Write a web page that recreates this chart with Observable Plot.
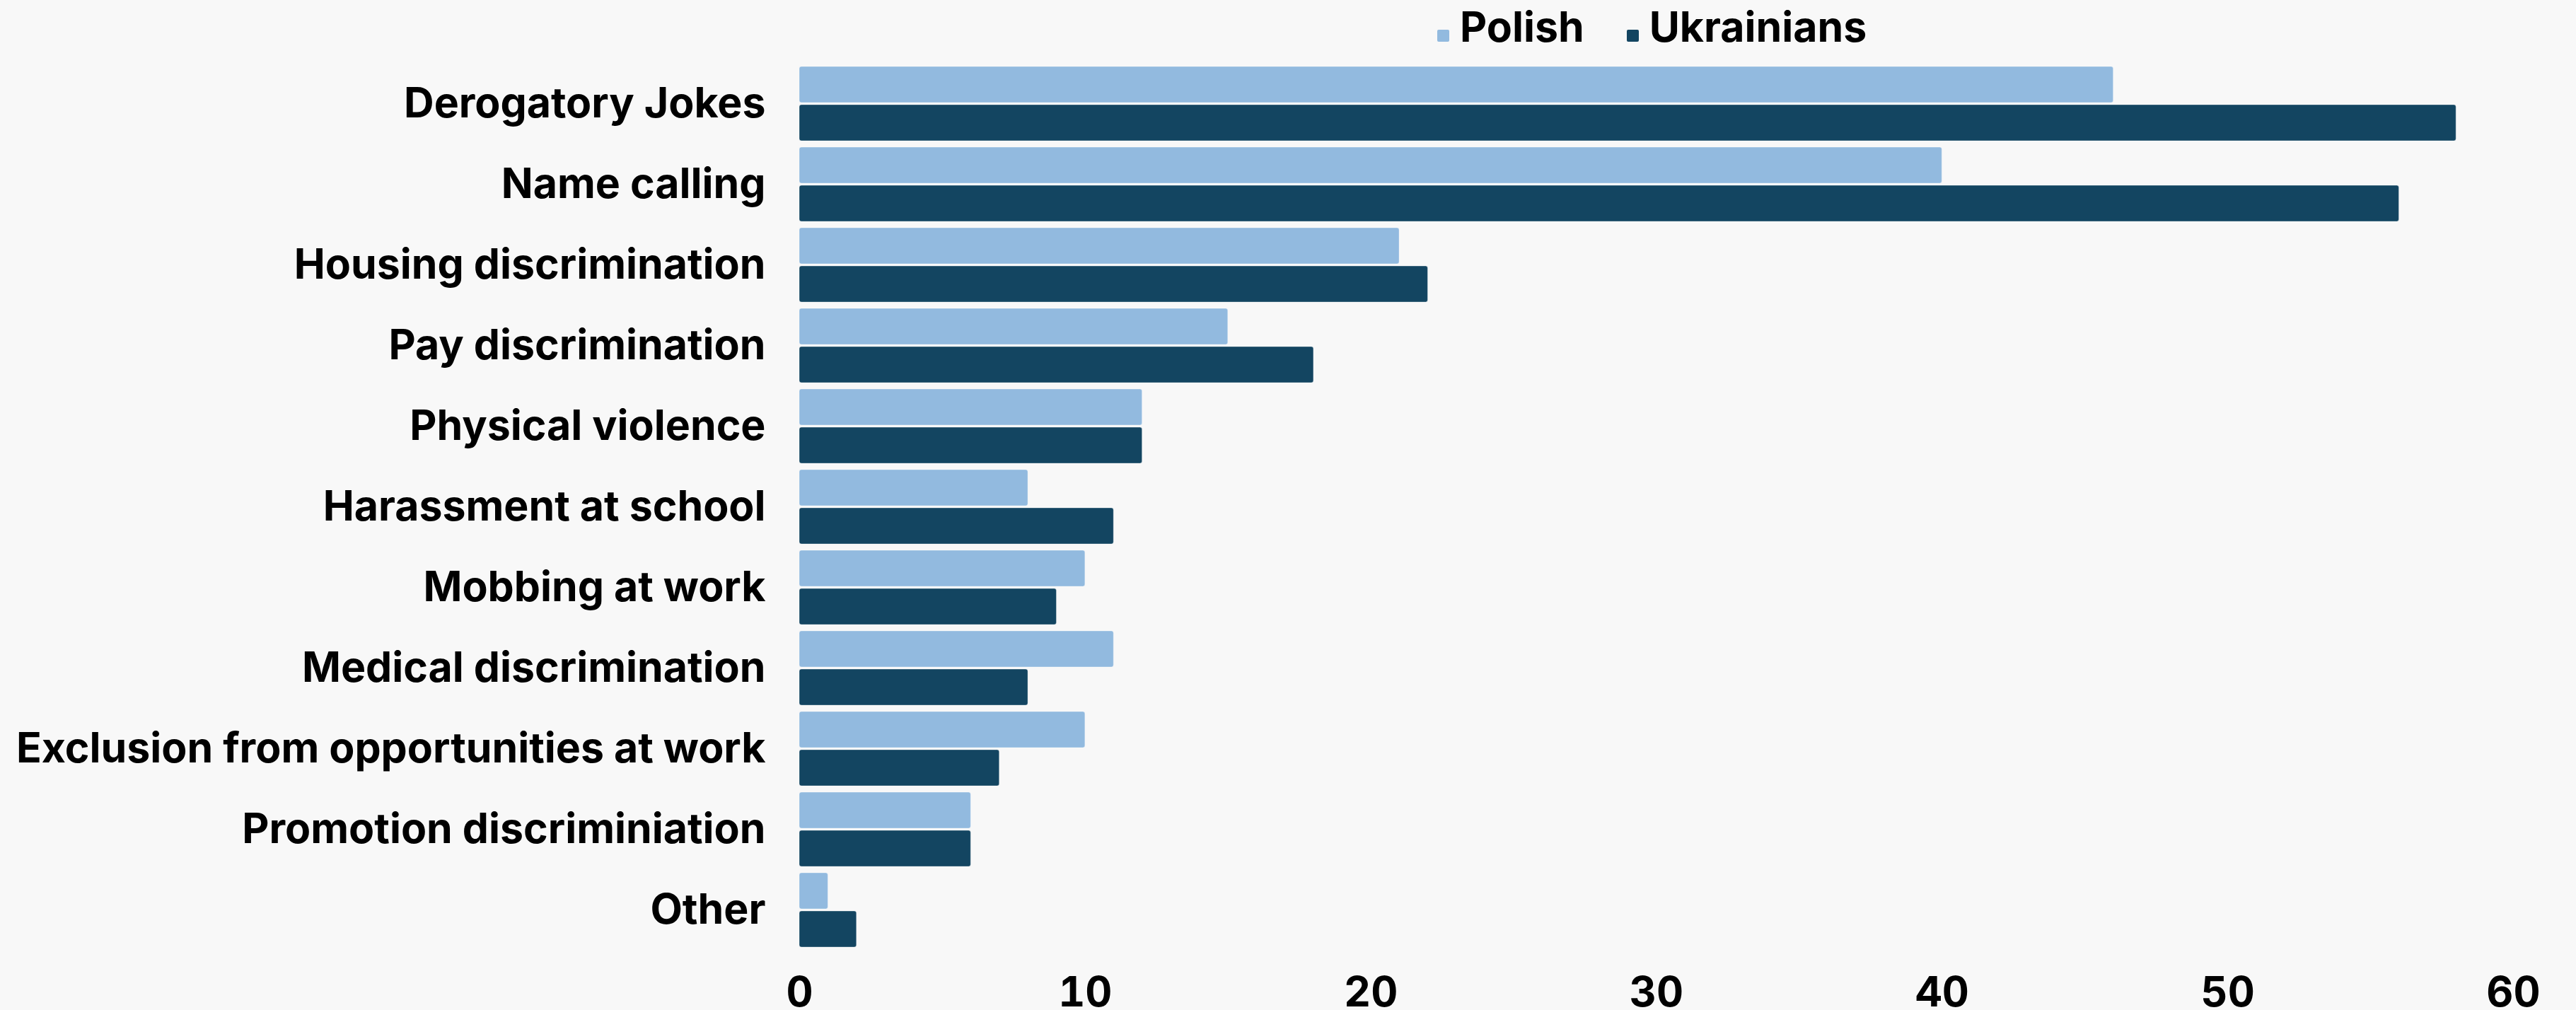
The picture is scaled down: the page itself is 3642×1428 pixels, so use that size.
<!DOCTYPE html>
<html>
<head>
<meta charset="utf-8">
<script src="https://cdn.jsdelivr.net/npm/d3@7"></script>
<script src="https://cdn.jsdelivr.net/npm/@observablehq/plot@0.6"></script>
<style>
  html, body { margin: 0; padding: 0; background: #f8f8f8; }
  body { width: 3642px; height: 1428px; position: relative; overflow: hidden; font-family: Inter, sans-serif; }
  #legend { position: absolute; top: 0; left: 2032px; height: 75px; display: flex; align-items: baseline; font-size: 59px; font-weight: 700; line-height: 75px; color: #000; }
  .item { display: inline-flex; align-items: baseline; margin-right: 60px; }
  .sw { display: inline-block; width: 17px; height: 17px; margin-right: 15px; margin-bottom: 14px; border-radius: 2px; }
  #chart { position: absolute; top: 75px; left: 0; }
</style>
</head>
<body>
<div id="legend"></div>
<div id="chart"></div>
<script>
const categories = [
  "Derogatory Jokes",
  "Name calling",
  "Housing discrimination",
  "Pay discrimination",
  "Physical violence",
  "Harassment at school",
  "Mobbing at work",
  "Medical discrimination",
  "Exclusion from opportunities at work",
  "Promotion discriminiation",
  "Other"
];
const seriesNames = ["Polish", "Ukrainians"];
const polish     = [46, 40, 21, 15, 12, 8, 10, 11, 10, 6, 1];
const ukrainians = [58, 56, 22, 18, 12, 11, 9, 8, 7, 6, 2];
const seriesColors = ["#92badf", "#134561"];
const xTicks = [0, 10, 20, 30, 40, 50, 60];

const table = [];
categories.forEach((c, i) => {
  table.push({category: c, series: seriesNames[0], value: polish[i]});
  table.push({category: c, series: seriesNames[1], value: ukrainians[i]});
});

// legend
const legend = document.getElementById("legend");
seriesNames.forEach((s, i) => {
  const it = document.createElement("span");
  it.className = "item";
  const sw = document.createElement("span");
  sw.className = "sw";
  sw.style.background = seriesColors[i];
  it.appendChild(sw);
  it.appendChild(document.createTextNode(s));
  legend.appendChild(it);
});

const chart = Plot.plot({
  width: 3642,
  height: 1353,
  marginLeft: 1130,
  marginRight: 89,
  marginTop: 11,
  marginBottom: 80,
  style: {background: "transparent", fontFamily: "Inter, sans-serif", fontSize: "59px", fontWeight: 700, color: "#000"},
  x: {domain: [0, 60], ticks: xTicks, tickSize: 0, tickPadding: 41, label: null},
  y: {domain: seriesNames, paddingInner: 0.055, paddingOuter: 0, axis: null},
  fy: {domain: categories, paddingInner: 0.07, paddingOuter: 0.035, axis: "left", tickSize: 0, tickPadding: 48, label: null},
  color: {domain: seriesNames, range: seriesColors},
  marks: [
    Plot.barX(table, {x: "value", y: "series", fy: "category", fill: "series", rx: 3, stroke: "white", strokeOpacity: 0.35, strokeWidth: 1})
  ]
});
document.getElementById("chart").appendChild(chart);
</script>
</body>
</html>
